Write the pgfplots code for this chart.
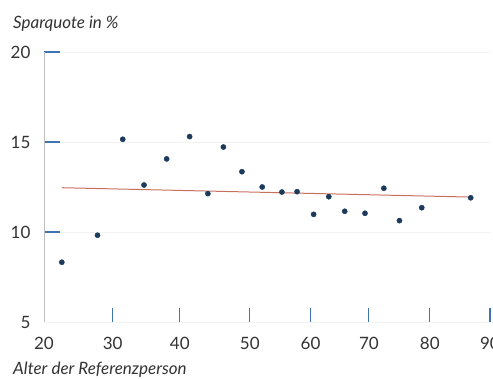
\documentclass[border=0pt]{standalone}
\usepackage{fontspec}
\setmainfont{Lato}
\usepackage{pgfplots}
\pgfplotsset{compat=1.18}
\definecolor{tickblue}{HTML}{3F74B0}
\definecolor{dotblue}{HTML}{1B3A5C}
\definecolor{trendred}{HTML}{C8705F}
\definecolor{txtgray}{HTML}{333333}
\begin{document}
\begin{tikzpicture}
\useasboundingbox (-44pt,-57pt) rectangle (449pt,322pt);
\begin{axis}[
  at={(0pt,0pt)}, anchor=south west,
  scale only axis, width=446pt, height=270pt,
  xmin=20, xmax=90, ymin=5, ymax=20,
  axis lines=left, axis line style={-},
  x axis line style={draw=black!6},
  y axis line style={draw=black!25, line width=0.8pt},
  xtick={30.77,41.32,52.3,61.84,71.0,80.56,90},
  xticklabels={30,40,50,60,70,80,90},
  extra x ticks={20}, extra x tick labels={20},
  extra x tick style={xtick style={draw=none}},
  ytick={10,15,20},
  extra y ticks={5}, extra y tick labels={5},
  extra y tick style={ytick style={draw=none}},
  tick align=inside,
  xtick style={draw=tickblue, line width=1.1pt, /pgfplots/major tick length=14pt},
  ytick style={draw=tickblue, line width=1.1pt, /pgfplots/major tick length=16pt},
  ymajorgrids, grid style={draw=black!5, line width=0.8pt},
  ticklabel style={font=\fontsize{17}{20}\selectfont, text=txtgray},
  /pgf/number format/assume math mode=true,
  xticklabel style={yshift=-12pt},
  yticklabel style={xshift=-10pt},
  clip=false,
]
\addplot[only marks, mark=*, mark size=2.6pt, draw=dotblue, fill=dotblue] coordinates {
(22.8,8.32) (28.4,9.82) (32.36,15.15) (35.7,12.61) (39.25,14.06)
(42.86,15.3) (45.72,12.13) (48.16,14.72) (51.07,13.35) (54.25,12.5)
(57.34,12.22) (59.72,12.24) (62.32,10.98) (64.7,11.96) (67.2,11.15)
(70.38,11.04) (73.34,12.43) (75.79,10.63) (79.29,11.35) (86.97,11.9)
};
\addplot[trendred, line width=1pt] coordinates {(22.8,12.46) (86.97,11.94)};
\end{axis}
\node[anchor=west, inner sep=0pt, text=txtgray, font=\fontsize{17}{20}\selectfont\itshape] at (-31pt,298pt) {Sparquote in \%};
\node[anchor=west, inner sep=0pt, text=txtgray, font=\fontsize{17}{20}\selectfont\itshape] at (-31pt,-48pt) {Alter der Referenzperson};
\end{tikzpicture}
\end{document}
